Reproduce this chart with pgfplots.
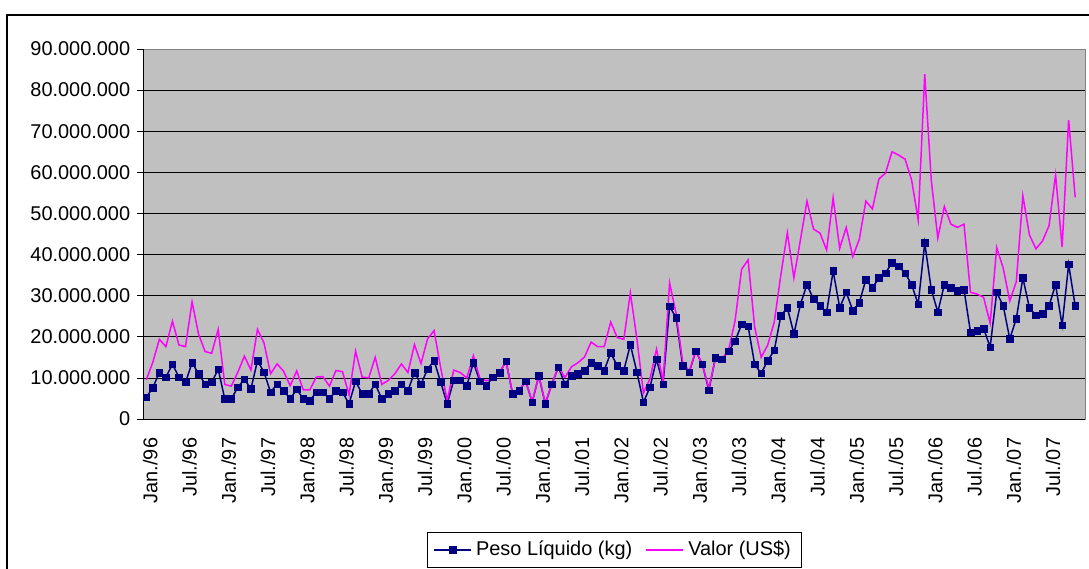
\documentclass[border=0pt]{standalone}
\usepackage{fontspec}
\setmainfont{Liberation Sans}
\usepackage{pgfplots}
\pgfplotsset{compat=1.18}
\definecolor{plotgray}{RGB}{192,192,192}
\definecolor{navy}{RGB}{0,0,128}
\definecolor{mag}{RGB}{255,0,255}
\begin{document}
\fontsize{20}{24}\selectfont
\begin{tikzpicture}
\begin{axis}[
  at={(0,0)}, anchor=south west,
  scale only axis, width=942bp, height=370bp,
  xmin=-0.5, xmax=143.5, ymin=0, ymax=90000000,
  scaled y ticks=false,
  axis background/.style={fill=plotgray},
  axis line style={draw=black!50, line width=0.75bp},
  ytick={0,10000000,20000000,30000000,40000000,50000000,60000000,70000000,80000000,90000000},
  yticklabels={0,10.000.000,20.000.000,30.000.000,40.000.000,50.000.000,60.000.000,70.000.000,80.000.000,90.000.000},
  ymajorgrids, major grid style={black, line width=0.75bp},
  tick align=outside, tick pos=left,
  major tick length=6bp, minor tick length=6bp,
  tick style={black, line width=0.75bp},
  xtick={0,6,...,138},
  xticklabels={Jan./96,Jul./96,Jan./97,Jul./97,Jan./98,Jul./98,Jan./99,Jul./99,Jan./00,Jul./00,Jan./01,Jul./01,Jan./02,Jul./02,Jan./03,Jul./03,Jan./04,Jul./04,Jan./05,Jul./05,Jan./06,Jul./06,Jan./07,Jul./07},
  xtick style={draw=none},
  minor xtick={-0.5,0.5,...,143.5},
  xticklabel style={rotate=90, anchor=east, xshift=-6bp, yshift=-4bp, font=\fontsize{20}{24}\selectfont},
  yticklabel style={font=\fontsize{20}{24}\selectfont},
  legend columns=2,
  legend style={at={(0.5,-0.3054)}, anchor=north, draw=black, fill=white,
    font=\fontsize{20}{24}\selectfont, inner xsep=6bp, inner ysep=4bp,
    nodes={inner xsep=4bp, inner ysep=4.5bp},
    /tikz/every even column/.append style={column sep=9bp}},
  legend image code/.code={\draw[line width=2bp, mark repeat=2,mark phase=2] plot coordinates {(0bp,0bp) (18.5bp,0bp) (37bp,0bp)};},
  clip=false,
]
\addplot[navy, line width=1.5bp, mark=square*, mark size=3.3bp, mark options={fill=navy, draw=navy, line width=0.5bp}] coordinates {
(0,5300000) (1,7600000) (2,11300000) (3,10200000) (4,13300000) (5,10200000) (6,8900000) (7,13700000) (8,11000000) (9,8500000)
(10,8900000) (11,12100000) (12,4900000) (13,4900000) (14,7700000) (15,9700000) (16,7300000) (17,14200000) (18,11400000) (19,6500000)
(20,8500000) (21,6900000) (22,4900000) (23,7200000) (24,4900000) (25,4500000) (26,6500000) (27,6500000) (28,4900000) (29,6900000)
(30,6500000) (31,3700000) (32,9200000) (33,6100000) (34,6100000) (35,8500000) (36,4900000) (37,6100000) (38,6900000) (39,8500000)
(40,6900000) (41,11300000) (42,8500000) (43,12100000) (44,14200000) (45,9000000) (46,3700000) (47,9400000) (48,9400000) (49,8100000)
(50,13700000) (51,9200000) (52,8100000) (53,10200000) (54,11300000) (55,14000000) (56,6100000) (57,6900000) (58,9200000) (59,4100000)
(60,10500000) (61,3700000) (62,8500000) (63,12600000) (64,8500000) (65,10500000) (66,11000000) (67,11800000) (68,13700000) (69,12900000)
(70,11800000) (71,16100000) (72,12900000) (73,11800000) (74,18100000) (75,11400000) (76,4100000) (77,7700000) (78,14500000) (79,8500000)
(80,27400000) (81,24600000) (82,12900000) (83,11400000) (84,16500000) (85,13300000) (86,7000000) (87,14900000) (88,14500000) (89,16500000)
(90,18900000) (91,23000000) (92,22600000) (93,13300000) (94,11100000) (95,14200000) (96,16700000) (97,25100000) (98,27100000) (99,20700000)
(100,27900000) (101,32700000) (102,29100000) (103,27500000) (104,26000000) (105,36000000) (106,27100000) (107,30800000) (108,26400000) (109,28300000)
(110,33900000) (111,31900000) (112,34300000) (113,35500000) (114,38000000) (115,37200000) (116,35500000) (117,32700000) (118,27900000) (119,42800000)
(120,31500000) (121,26000000) (122,32700000) (123,31900000) (124,31200000) (125,31500000) (126,21100000) (127,21500000) (128,22000000) (129,17500000)
(130,30800000) (131,27500000) (132,19500000) (133,24400000) (134,34300000) (135,27100000) (136,25200000) (137,25600000) (138,27500000) (139,32700000)
(140,22800000) (141,37600000) (142,27500000)
};
\addlegendentry{Peso Líquido (kg)}
\addplot[mag, line width=1.5bp, mark=none] coordinates {
(0,9500000) (1,13800000) (2,19400000) (3,17600000) (4,23800000) (5,18000000) (6,17600000) (7,28500000) (8,20600000) (9,16400000)
(10,16000000) (11,21800000) (12,8400000) (13,8000000) (14,11400000) (15,15300000) (16,11900000) (17,21800000) (18,18500000) (19,11000000)
(20,13400000) (21,11600000) (22,8100000) (23,11700000) (24,7100000) (25,7100000) (26,10200000) (27,10300000) (28,8000000) (29,11800000)
(30,11500000) (31,5900000) (32,16500000) (33,10200000) (34,10000000) (35,15000000) (36,8400000) (37,9400000) (38,11000000) (39,13400000)
(40,11300000) (41,18100000) (42,13500000) (43,19500000) (44,21500000) (45,12500000) (46,4500000) (47,11900000) (48,11300000) (49,10000000)
(50,15400000) (51,9900000) (52,9300000) (53,9900000) (54,11400000) (55,13900000) (56,6200000) (57,7000000) (58,9300000) (59,4100000)
(60,10600000) (61,3800000) (62,8600000) (63,12700000) (64,10100000) (65,12700000) (66,13700000) (67,15100000) (68,18700000) (69,17600000)
(70,17600000) (71,23600000) (72,19800000) (73,19400000) (74,30700000) (75,19500000) (76,6300000) (77,9800000) (78,17000000) (79,9200000)
(80,33100000) (81,25600000) (82,13900000) (83,11600000) (84,16600000) (85,13200000) (86,7500000) (87,14600000) (88,14600000) (89,16700000)
(90,23800000) (91,36400000) (92,38700000) (93,22400000) (94,15000000) (95,18000000) (96,23600000) (97,35000000) (98,45300000) (99,34300000)
(100,43600000) (101,53000000) (102,46200000) (103,45200000) (104,41100000) (105,53800000) (106,41500000) (107,46600000) (108,39500000) (109,43700000)
(110,53000000) (111,51100000) (112,58400000) (113,59800000) (114,65000000) (115,64200000) (116,63200000) (117,58100000) (118,48400000) (119,83900000)
(120,58100000) (121,44000000) (122,51700000) (123,47400000) (124,46600000) (125,47400000) (126,30800000) (127,30400000) (128,29600000) (129,23300000)
(130,41700000) (131,36700000) (132,28700000) (133,33400000) (134,54300000) (135,44800000) (136,41400000) (137,43300000) (138,47000000) (139,59400000)
(140,41800000) (141,72700000) (142,53900000)
};
\addlegendentry{Valor (US\$)}
\draw[black, line width=0.75bp] (rel axis cs:0,1) -- (rel axis cs:0,0) -- (rel axis cs:1,0);
\end{axis}
\draw[black, line width=2bp] (-136bp,-200bp) -- (-136bp,404bp) -- (1200bp,404bp);
\pgfresetboundingbox
\path[use as bounding box] (-143bp,-150bp) rectangle (946bp,419bp);
\end{tikzpicture}
\end{document}
